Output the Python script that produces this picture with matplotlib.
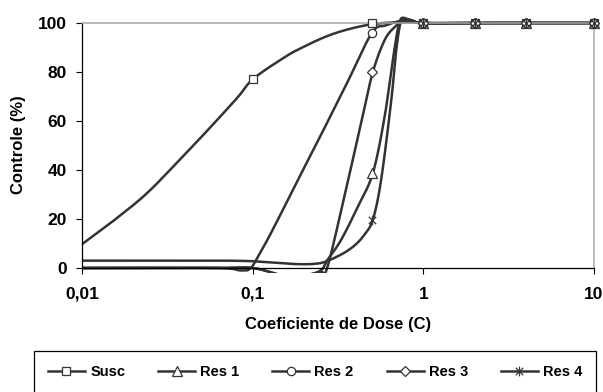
import numpy as np
import matplotlib
matplotlib.use('Agg')
import matplotlib.pyplot as plt
from matplotlib.lines import Line2D
from matplotlib.patches import Rectangle
from matplotlib.path import Path
from matplotlib.ticker import NullLocator

plt.rcParams['font.family'] = ['Liberation Sans', 'DejaVu Sans']
plt.rcParams['font.weight'] = 'bold'

# doses with markers (nan = no marker shown)
doses = [0.1, 0.5, 1, 2, 4, 10]
susc = [77, 100, 100, 100, 100, 100]
res1 = [np.nan, 38.7, 100, 100, 100, 100]
res2 = [np.nan, 96, 100, 100, 100, 100]
res3 = [np.nan, 80, 100, 100, 100, 100]
res4 = [np.nan, 19.7, 100, 100, 100, 100]

# points
susc_cx = [0.01, 0.0153, 0.024, 0.0377, 0.0541, 0.0813,
           0.1, 0.146, 0.19, 0.3, 0.5, 0.8, 1, 2, 4, 10]
susc_cy = [9.7, 19.3, 30.5, 44.5, 56, 69.5,
           77, 85, 89.6, 95.7, 99.5, 100.3, 100, 100, 100, 100]

res1_cx = [0.01, 0.06, 0.1, 0.15, 0.2, 0.25, 0.275, 0.33, 0.413, 0.506, 0.593, 0.662,
           0.726, 0.8, 1, 2, 4, 10]
res1_cy = [0, 0, 0, -3, -3, -1, 3.4, 11.5, 25, 38.7, 61.7, 84.8,
           100.5, 101.5, 100, 100, 100, 100]

res2_cx = [0.01, 0.06, 0.085, 0.0975, 0.111, 0.122, 0.146, 0.19, 0.25, 0.36, 0.5, 0.6,
           0.75, 0.85, 1, 2, 4, 10]
res2_cy = [0, 0, -1, 0, 6.5, 11.5, 22, 37.8, 54, 76, 96, 99,
           101, 101, 100, 100, 100, 100]

res3_cx = [0.01, 0.06, 0.1, 0.15, 0.2, 0.25, 0.275, 0.36, 0.44, 0.506, 0.593, 0.68,
           0.76, 0.85, 1, 2, 4, 10]
res3_cy = [0, 0, 0, -3, -3, -1.5, 0.7, 35, 61.7, 80, 93, 98.4,
           101, 101, 100, 100, 100, 100]

res4_cx = [0.01, 0.07, 0.12, 0.18, 0.23, 0.27, 0.34, 0.40, 0.45, 0.506, 0.566, 0.649,
           0.694, 0.743, 0.82, 1, 2, 4, 10]
res4_cy = [3, 3, 2.4, 1.6, 1.7, 2.7, 6, 9.5, 13.5, 19.7, 36, 68.5,
           89, 101, 101.5, 100, 100, 100, 100]

labels = ['Susc', 'Res 1', 'Res 2', 'Res 3', 'Res 4']


def smooth(xs, ys, n=24):
    # excel style bezier smoothing in log-x space
    P = np.column_stack([np.log10(xs), ys])
    out = []
    t = np.linspace(0, 1, n)[:, None]
    for i in range(len(P) - 1):
        p0 = P[i - 1] if i > 0 else P[i]
        p1 = P[i]
        p2 = P[i + 1]
        p3 = P[i + 2] if i + 2 < len(P) else P[i + 1]
        c1 = p1 + (p2 - p0) / 6
        c2 = p2 - (p3 - p1) / 6
        seg = (1-t)**3*p1 + 3*(1-t)**2*t*c1 + 3*(1-t)*t**2*c2 + t**3*p2
        out.append(seg if i == 0 else seg[1:])
    out = np.vstack(out)
    return 10 ** out[:, 0], out[:, 1]


star = Path([(-1, -1), (1, 1), (-1, 1), (1, -1), (0, -1.3), (0, 1.3)],
            [Path.MOVETO, Path.LINETO] * 3)

lc = '#333333'
styles = [('s', 6), ('^', 7), ('o', 6), ('D', 5), (star, 7)]

fig = plt.figure(figsize=(6.03, 3.92), dpi=100)
ax = fig.add_axes([82/603, 1-268/392, (594-82)/603, (268-23)/392])
ax.set_xscale('log')
ax.set_xlim(0.01, 10)
ax.set_ylim(0, 100)

clip = Rectangle((0, -0.022), 1, 1.06, transform=ax.transAxes)

curves = [(susc_cx, susc_cy), (res1_cx, res1_cy), (res2_cx, res2_cy),
          (res3_cx, res3_cy), (res4_cx, res4_cy)]
marks = [susc, res1, res2, res3, res4]
handles = []
for (cx, cy), vals, (m, ms), lab in zip(curves, marks, styles, labels):
    sx, sy = smooth(cx, cy)
    ln, = ax.plot(sx, sy, color=lc, lw=1.8, solid_capstyle='round', zorder=2)
    ln.set_clip_path(clip)
    ax.plot(doses, vals, ls='none', marker=m, ms=ms, mfc='white', mec=lc,
            mew=0.9, clip_on=False, zorder=3)
    handles.append(Line2D([], [], color=lc, lw=1.8, marker=m, ms=ms,
                          mfc='white', mec=lc, mew=0.9))

ax.set_xticks([0.01, 0.1, 1, 10])
ax.set_xticklabels(['0,01', '0,1', '1', '10'])
ax.xaxis.set_minor_locator(NullLocator())
ax.set_yticks([0, 20, 40, 60, 80, 100])
ax.tick_params(axis='both', direction='out', length=4.5, width=0.8,
               labelsize=12.5, color='black')
ax.tick_params(axis='y', pad=6.5)
ax.tick_params(axis='x', pad=9)
for t in ax.get_xticklabels() + ax.get_yticklabels():
    t.set_fontweight('bold')

for s in ['left', 'bottom']:
    ax.spines[s].set_color('black')
    ax.spines[s].set_linewidth(0.9)
for s in ['top', 'right']:
    ax.spines[s].set_color('#a6a6a6')
    ax.spines[s].set_linewidth(1.1)

fig.text(338/603, 1-325/392, 'Coeficiente de Dose (C)', ha='center', va='center',
         fontsize=12, fontweight='bold')
fig.text(18.5/603, 1-145/392, 'Controle (%)', rotation=90, ha='center',
         va='center', fontsize=12, fontweight='bold')

leg = fig.legend(handles, labels, loc='upper left', ncol=5,
                 bbox_to_anchor=(34/603, 1-351/392), bbox_transform=fig.transFigure,
                 prop={'size': 10.5, 'weight': 'bold'}, numpoints=1,
                 handlelength=2.55, handletextpad=0.35, columnspacing=2.25,
                 borderpad=0.95, borderaxespad=0, fancybox=False, framealpha=1)
leg.get_frame().set_edgecolor('black')
leg.get_frame().set_linewidth(0.9)

fig.savefig('out.png', dpi=100)
